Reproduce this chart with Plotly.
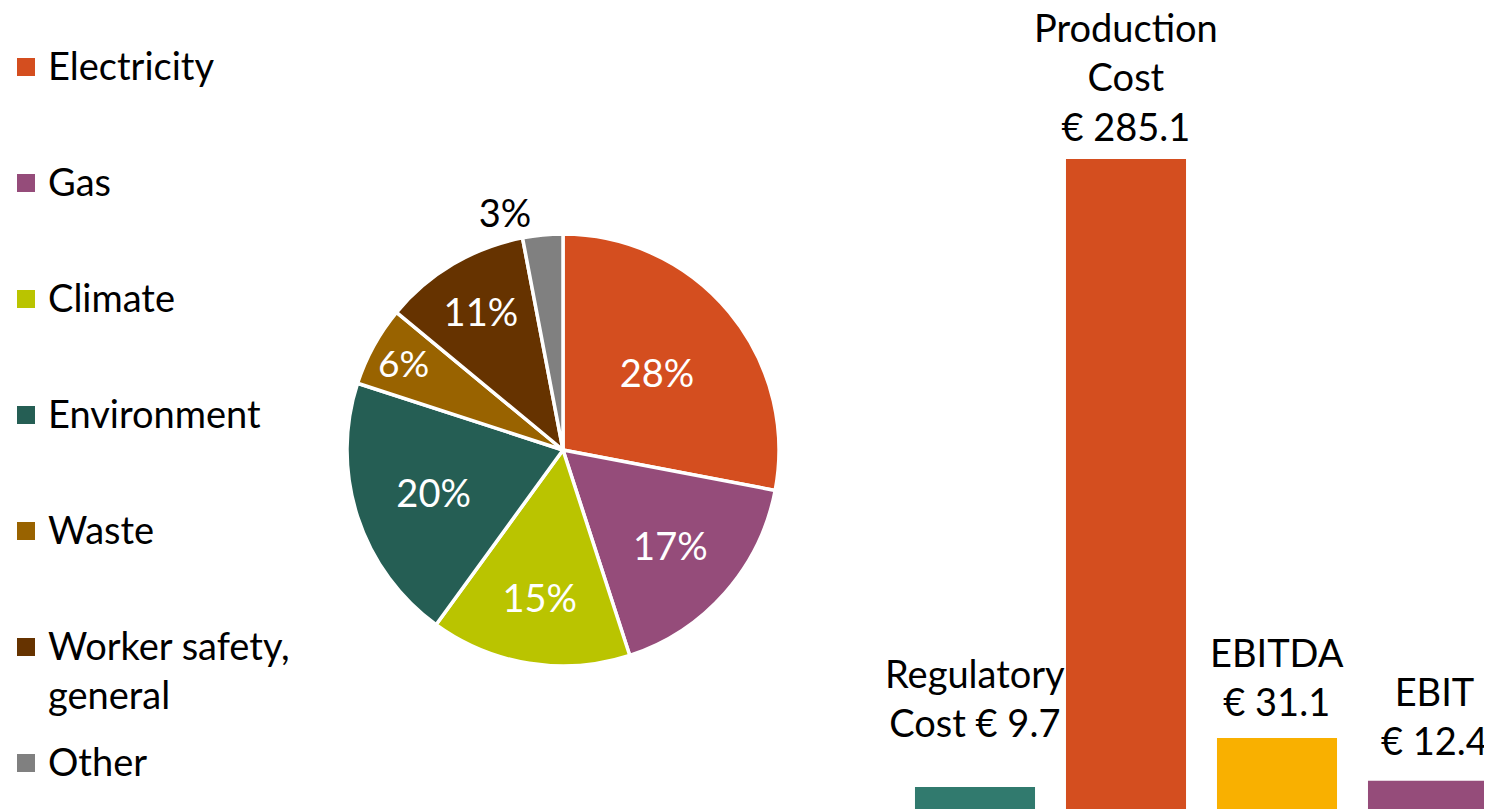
import plotly.graph_objects as go

# ---- data ----
pie_labels = ["Electricity", "Gas", "Climate", "Environment", "Waste",
              "Worker safety,<br>general", "Other"]
pie_values = [28, 17, 15, 20, 6, 11, 3]
pie_colors = ["#D44E1F", "#954C7A", "#BAC400", "#255E54", "#996300", "#663300", "#808080"]
pie_textpos = ["inside"] * 6 + ["outside"]

bar_cats = ["Regulatory Cost", "Production Cost", "EBITDA", "EBIT"]
bar_values = [9.7, 285.1, 31.1, 12.4]
bar_colors = ["#317A6E", "#D44E1F", "#F9B000", "#954C7A"]
bar_label_text = ["Regulatory<br>Cost € 9.7", "Production<br>Cost<br>€ 285.1",
                  "EBITDA<br>€ 31.1", "EBIT<br>€ 12.4"]
bar_label_shift = [40, 8, 12, 16]
bar_label_xshift = [0, 0, 0, 6]

FONT = "Lato, Carlito, 'Open Sans', sans-serif"
# page body has an 8px margin; figure fills the rest of the 1492x809 window
OFF = 8
W, H = 1492 - OFF, 809 - OFF
FS = 38


def px(x):
    return (x - OFF) / W


def py(y):
    return (H - (y - OFF)) / H


fig = go.Figure()

fig.add_trace(go.Pie(
    labels=pie_labels, values=pie_values, sort=False, direction="clockwise",
    rotation=0,
    marker=dict(colors=pie_colors, line=dict(color="white", width=3.5)),
    textinfo="percent", textposition=pie_textpos,
    insidetextorientation="horizontal",
    insidetextfont=dict(color="white", size=FS, family=FONT),
    outsidetextfont=dict(color="black", size=FS, family=FONT),
    domain=dict(x=[px(347), px(779)], y=[py(666), py(234)]),
    showlegend=False, hoverinfo="label+percent",
))

fig.add_trace(go.Bar(
    x=bar_cats, y=bar_values, marker=dict(color=bar_colors, line=dict(width=0)),
    width=0.795, showlegend=False, xaxis="x", yaxis="y",
))

# bar labels
for cat, val, txt, ys, xs in zip(bar_cats, bar_values, bar_label_text,
                                 bar_label_shift, bar_label_xshift):
    fig.add_annotation(x=cat, y=val, xref="x", yref="y", text=txt,
                       showarrow=False, yanchor="bottom", xanchor="center",
                       yshift=ys, xshift=xs, align="center",
                       font=dict(size=FS, color="black", family=FONT))

# manual legend
legend_top = 67
legend_step = 116
for i, (lab, col) in enumerate(zip(pie_labels, pie_colors)):
    yc = legend_top + i * legend_step
    fig.add_shape(type="rect", xref="paper", yref="paper",
                  x0=px(17), x1=px(35), y0=py(yc + 9), y1=py(yc - 9),
                  fillcolor=col, line=dict(width=0))
    fig.add_annotation(xref="paper", yref="paper", x=px(46), y=py(yc - 27),
                       text=lab, showarrow=False, xanchor="left", yanchor="top",
                       align="left",
                       font=dict(size=FS, color="black", family=FONT))

# bar axis: category pitch 151px, first bar centre at x=974, baseline at y=810
x_left_px, x_right_px = 860, 1492
x_range = [-0.5 - (899.5 - x_left_px) / 151, -0.5 + (x_right_px - 899.5) / 151]
y_top = (810 - OFF) / 2.283

fig.update_layout(
    width=W, height=H,
    margin=dict(l=0, r=0, t=0, b=0),
    paper_bgcolor="white", plot_bgcolor="white",
    xaxis=dict(domain=[px(x_left_px), 1], range=x_range, visible=False,
               fixedrange=True),
    yaxis=dict(domain=[0, 1], range=[0, y_top], visible=False, fixedrange=True),
    font=dict(family=FONT),
    bargap=0.2,
)

fig.write_html("out.html")
